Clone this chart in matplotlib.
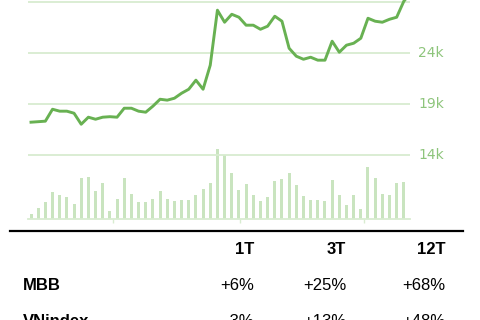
"""
MBB price / volume chart with performance table.
"""

import numpy as np
import matplotlib.pyplot as plt

# price in thousand VND, one point per session
price = [17.17, 17.22, 17.27, 18.44, 18.25, 18.25, 18.05, 16.97, 17.66, 17.46,
         17.66, 17.71, 17.66, 18.54, 18.54, 18.25, 18.15, 18.74, 19.42, 19.33,
         19.52, 20.01, 20.40, 21.29, 20.40, 22.76, 28.15, 26.97, 27.75, 27.46,
         26.68, 26.68, 26.28, 26.58, 27.56, 27.07, 24.42, 23.64, 23.34, 23.54,
         23.25, 23.25, 25.11, 24.03, 24.72, 24.91, 25.40, 27.36, 27.07, 26.97,
         27.26, 27.46, 29.03, 29.90]

# volume (arbitrary units)
volume = [5.3, 11.3, 16.7, 27, 24.3, 21.7, 15.3, 40.7, 42, 28.3,
          36, 7.7, 20.3, 40.7, 25.3, 16.7, 16.7, 20.3, 27.7, 20.3,
          18.3, 19.3, 19.3, 24.3, 30.3, 36, 70, 63.7, 46, 29.3,
          35.3, 24.3, 18.3, 21.7, 37.7, 40.3, 46, 34.3, 22.7, 19.3,
          19.3, 17.7, 39.3, 24.3, 13.7, 24.3, 10.3, 52, 41, 25.3,
          24.3, 36, 36.7]

grid_levels = [14, 19, 24, 29]
month_ticks = [11.4, 29.1, 46.4]

cols = ["1T", "3T", "12T"]
rows = ["MBB", "VNindex"]
perf = [["+6%", "+25%", "+68%"],
        ["-3%", "+13%", "+48%"]]

line_green = "#68b152"
bar_green = "#c9e4bf"
grid_green = "#d8ecd0"
label_green = "#8ec57c"

fig = plt.figure(figsize=(4.8, 3.2), dpi=100)

ax = fig.add_axes([28/480, 1 - 219/320, (410 - 28)/480, 219/320])
axv = ax.twinx()
ax.set_zorder(axv.get_zorder() + 1)
ax.patch.set_visible(False)

x = np.arange(len(price))
xv = np.arange(len(volume))

axv.bar(xv, volume, width=0.42, color=bar_green, zorder=2)
axv.set_ylim(0, max(volume) * 219 / 70)
axv.set_yticks([])
for s in axv.spines.values():
    s.set_visible(False)

for g in grid_levels:
    ax.axhline(g, color=grid_green, lw=1.3, zorder=1)
ax.plot(x, price, color=line_green, lw=2.1, zorder=3, solid_joinstyle="round")

top = 29.15
ax.set_ylim(top - 219 * 5 / 51, top)
ax.set_xlim(-0.42, 52.86)
ax.set_yticks([])
ax.set_xticks(month_ticks)
ax.set_xticklabels([])
ax.tick_params(axis="x", length=3, width=1, color=grid_green)
for k in ["top", "left", "right"]:
    ax.spines[k].set_visible(False)
ax.spines["bottom"].set_color(grid_green)
ax.spines["bottom"].set_linewidth(1.3)

for g in grid_levels[:-1]:
    ax.annotate("{}k".format(g), xy=(1, g), xycoords=("axes fraction", "data"),
                xytext=(8, 0), textcoords="offset pixels", va="center", ha="left",
                color=label_green, fontsize=10, family="DejaVu Sans")

# performance table
fig.add_artist(plt.Line2D([10/480, 463/480], [1 - 231/320, 1 - 231/320],
                          color="black", lw=1.6, transform=fig.transFigure))

col_x = [254, 346, 445]
for cx, c in zip(col_x, cols):
    fig.text(cx/480, 1 - 250/320, c, ha="right", va="center", fontsize=12,
             fontweight="bold", family="Liberation Sans")

row_y = [286, 321]
for ry, r, vals in zip(row_y, rows, perf):
    fig.text(23/480, 1 - ry/320, r, ha="left", va="center", fontsize=12,
             fontweight="bold", family="Liberation Sans")
    for cx, v in zip(col_x, vals):
        fig.text(cx/480, 1 - ry/320, v, ha="right", va="center", fontsize=12,
                 family="Liberation Sans")

fig.savefig("out.png", dpi=100)
